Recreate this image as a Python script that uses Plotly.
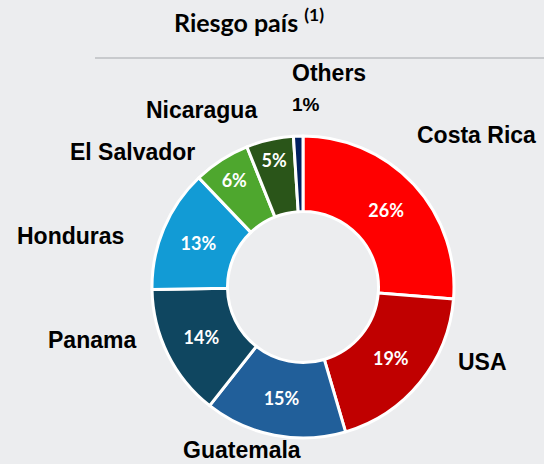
import plotly.graph_objects as go

categories = ["Costa Rica", "USA", "Guatemala", "Panama", "Honduras", "El Salvador", "Nicaragua", "Others"]
values = [26, 19, 15, 14, 13, 6, 5, 1]
colors = ["#FF0000", "#C00000", "#215F9A", "#0F4660", "#129BD5", "#4EA72E", "#2A5519", "#002060"]
inside_text = [f"<b>{v}%</b>" if v >= 5 else "" for v in values]

W, H = 544, 464
fig = go.Figure()
fig.add_trace(go.Pie(
    labels=categories, values=values, sort=False, direction="clockwise", rotation=0,
    hole=0.5, text=inside_text, texttemplate="%{text}", textinfo="text",
    textposition="inside", insidetextorientation="horizontal",
    textfont=dict(family="Lato", size=18, color="white"),
    marker=dict(colors=colors, line=dict(color="white", width=3)),
    domain=dict(x=[152/W, 454/W], y=[1-438/H, 1-136/H]),
    showlegend=False, hoverinfo="label+percent",
))

# external labels (pixel centers from the reference)
ext = [
    ("Costa Rica", 476, 135),
    ("USA", 482, 362),
    ("Guatemala", 242, 450),
    ("Panama", 92, 340),
    ("Honduras", 70, 236),
    ("El Salvador", 132, 152),
    ("Nicaragua", 201, 110),
    ("Others", 329, 73),
]
annotations = []
for name, px, py in ext:
    annotations.append(dict(x=px/W, y=1-py/H, xref="paper", yref="paper", text=f"<b>{name}</b>",
                            showarrow=False, xanchor="center", yanchor="middle",
                            font=dict(family="Liberation Sans, Arial", size=23, color="black")))
annotations.append(dict(x=306/W, y=1-105/H, xref="paper", yref="paper",
                        text=f"<b>{values[categories.index('Others')]}%</b>",
                        showarrow=False, xanchor="center", yanchor="middle",
                        font=dict(family="Liberation Sans, Arial", size=19, color="black")))
annotations.append(dict(x=172/W, y=1-21/H, xref="paper", yref="paper",
                        text="<b>Riesgo país <sup>(1)</sup></b>",
                        showarrow=False, xanchor="left", yanchor="middle",
                        font=dict(family="Lato", size=25, color="black")))

fig.update_layout(
    width=W, height=H, margin=dict(l=0, r=0, t=0, b=0),
    paper_bgcolor="#ECEDEF", plot_bgcolor="#ECEDEF",
    annotations=annotations,
    shapes=[dict(type="line", xref="paper", yref="paper", x0=95/W, x1=1, y0=1-58/H, y1=1-58/H,
                 line=dict(color="#C8CACD", width=2))],
)
fig.write_html("out.html", config={"displayModeBar": False},
               post_script="document.body.style.margin='0';document.body.style.overflow='hidden';")
